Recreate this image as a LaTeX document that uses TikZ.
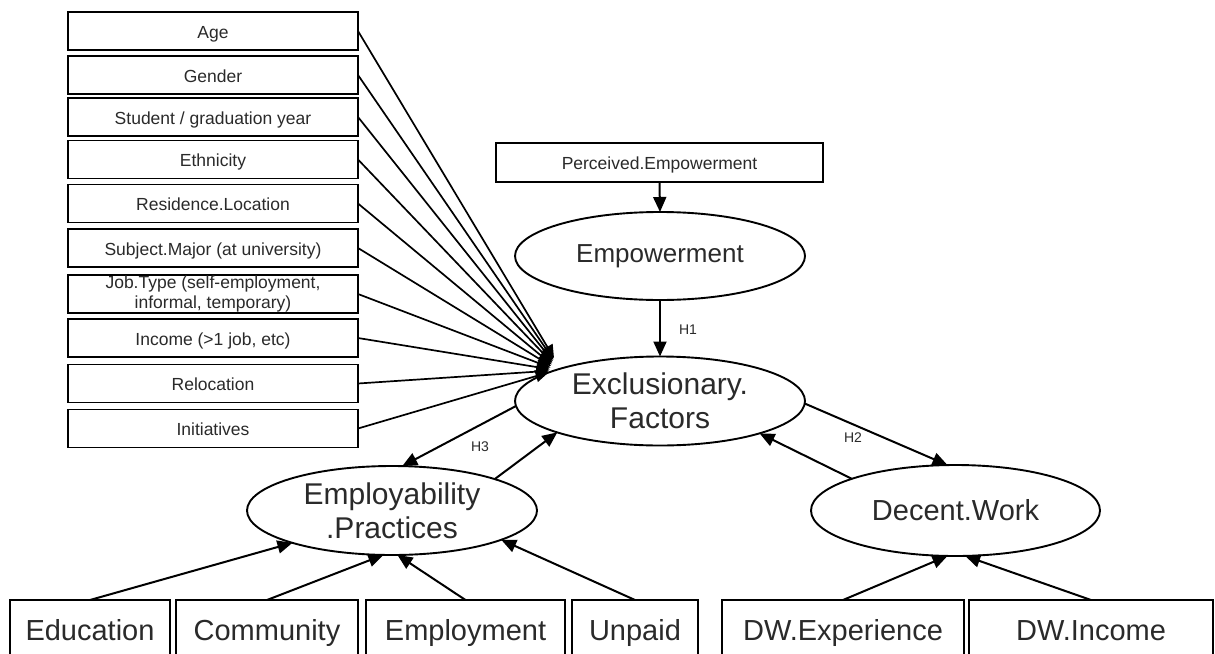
\documentclass[tikz,border=0pt]{standalone}
\usepackage{fontspec}
\setmainfont{Liberation Sans}
\usetikzlibrary{shapes.geometric,arrows.meta}
\definecolor{txt}{HTML}{2A2A2A}
\begin{document}
\begin{tikzpicture}[x=1pt,y=-1pt,
  lboxbase/.style={draw,line width=1.9pt,inner sep=0pt,outer sep=0pt,minimum width=290pt,minimum height=38pt,text=txt,font=\fontsize{17.5}{20}\selectfont,align=center},
  lbox/.style={lboxbase,text height=15pt,text depth=1pt},
  bbox/.style={draw,line width=1.9pt,inner sep=0pt,outer sep=0pt,minimum height=60pt,text=txt,font=\fontsize{29}{32}\selectfont,text height=24pt,text depth=4pt},
  ell/.style={draw,ellipse,line width=1.9pt,inner sep=0pt,outer sep=0pt,minimum width=290pt,minimum height=89pt,text=txt,align=center,font=\fontsize{30}{34}\selectfont},
  hlab/.style={text=txt,font=\fontsize{14}{16}\selectfont,inner sep=0pt},
  arr/.style={line width=2pt,-{Triangle[length=15pt,width=13pt]}},
  ln/.style={line width=1.7pt,-{Triangle[length=13pt,width=12pt]}}]
\useasboundingbox (0,0) rectangle (1215,653);
\clip (0,0) rectangle (1215,653);
\fill[white] (0,0) rectangle (1215,653);
% left boxes
\node[lbox] (age) at (213,31) {Age};
\node[lbox] (gen) at (213,75) {Gender};
\node[lbox] (stu) at (213,117) {Student / graduation year};
\node[lbox] (eth) at (213,159.5) {Ethnicity};
\node[lbox] (res) at (213,203.5) {Residence.Location};
\node[lbox] (sub) at (213,248) {Subject.Major (at university)};
\node[lboxbase] (job) at (213,294) {Job.Type (self-employment,\\informal, temporary)};
\node[lbox] (inc) at (213,338) {Income (>1 job, etc)};
\node[lbox] (rel) at (213,383.5) {Relocation};
\node[lbox] (ini) at (213,428.5) {Initiatives};
% top
\node[lbox,minimum width=327pt,minimum height=39pt] (perc) at (659.5,162.5) {Perceived.Empowerment};
\node[ell,minimum height=88pt,font=\fontsize{26}{30}\selectfont] (empw) at (660,256) {Empowerment};
\node[ell] (excl) at (660,401) {Exclusionary.\\Factors};
\node[ell] (emp) at (392,510.5) {Employability\\.Practices};
\node[ell,minimum width=289pt,minimum height=91pt,font=\fontsize{29}{32}\selectfont] (dec) at (955.5,510.5) {Decent.Work};
% bottom boxes
\node[bbox,minimum width=160pt] (edu) at (90,630) {Education};
\node[bbox,minimum width=182pt] (com) at (267,630) {Community};
\node[bbox,minimum width=199pt] (empl) at (465.5,630) {Employment};
\node[bbox,minimum width=126pt] (unp) at (635,630) {Unpaid};
\node[bbox,minimum width=242pt] (dwe) at (843,630) {DW.Experience};
\node[bbox,minimum width=244pt] (dwi) at (1091,630) {DW.Income};
% convergence tips
\foreach \n [count=\i from 0] in {age,gen,stu,eth,res,sub,job,inc,rel,ini}{
  \coordinate (tip\n) at ({554-0.6*\i},{358+1.6*\i});
  \draw[ln] (\n.east) -- (tip\n);
}
% arrows
\draw[arr] (perc.south) -- (empw.north);
\draw[arr] (empw.south) -- (excl.north);
\node[hlab] (h1) at (688,330) {H1};
\draw[arr] (excl.182) -- (emp.77);
\draw[arr] (emp.17) -- (excl.197);
\node[hlab] (h3) at (480,447) {H3};
\draw[arr] (excl.359) -- (dec.100);
\draw[arr] (dec.163) -- (excl.342);
\node[hlab] (h2) at (853,438) {H2};
\draw[arr] (edu.north) -- (emp.198);
\draw[arr] (com.north) -- (emp.259);
\draw[arr] (empl.north) -- (emp.277);
\draw[arr] (unp.north) -- (emp.345);
\draw[arr] (dwe.north) -- (dec.260);
\draw[arr] (dwi.north) -- (dec.282);
\end{tikzpicture}
\end{document}
